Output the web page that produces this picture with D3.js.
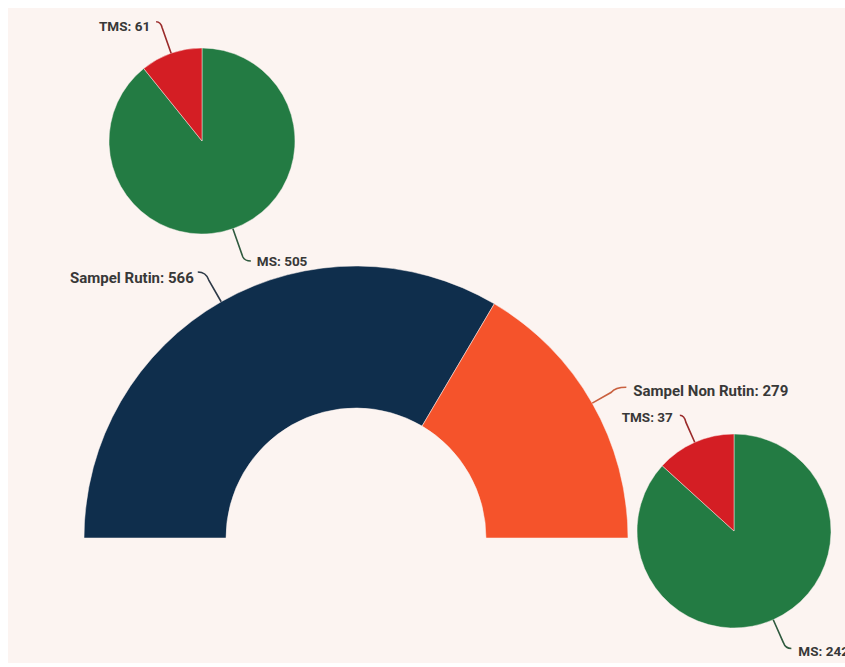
<!DOCTYPE html>
<html><head><meta charset="utf-8">
<script src="https://cdn.jsdelivr.net/npm/d3@7"></script>
<style>html,body{margin:0;padding:0;background:#fff;}svg{display:block;}</style>
</head><body>
<svg id="chart" width="845" height="667"></svg>
<script>
// ---- data ----
const mainCategories = ["Sampel Rutin", "Sampel Non Rutin"];
const mainValues = [566, 279];
const rutinCategories = ["MS", "TMS"];
const rutinValues = [505, 61];
const nonRutinCategories = ["MS", "TMS"];
const nonRutinValues = [242, 37];

const svg = d3.select("#chart");
svg.append("rect").attr("x", 8).attr("y", 8).attr("width", 837).attr("height", 655).attr("fill", "#fcf4f1");

const colMain = d3.scaleOrdinal().domain(mainCategories).range(["#0f2e4c", "#f5532b"]);
const lineMain = d3.scaleOrdinal().domain(mainCategories).range(["#2e3a48", "#c9603f"]);
const colSub = d3.scaleOrdinal().domain(["MS", "TMS"]).range(["#237b43", "#d41e24"]);
const lineSub = d3.scaleOrdinal().domain(["MS", "TMS"]).range(["#2f5a3f", "#9a2a2a"]);

const font = "Roboto, 'Liberation Sans', sans-serif";

function drawLabel(g, edge, angle, ext, hook, text, anchor, tdx, tdy, color, size) {
  const p1 = [edge[0] + Math.sin(angle) * ext, edge[1] - Math.cos(angle) * ext];
  const end = [p1[0] + hook[0], p1[1] + hook[1]];
  const ctrl = [p1[0] + hook[0] * 0.25, end[1]];
  const path = d3.path();
  path.moveTo(edge[0], edge[1]);
  path.lineTo(p1[0], p1[1]);
  path.quadraticCurveTo(ctrl[0], ctrl[1], end[0], end[1]);
  g.append("path").attr("d", path.toString()).attr("fill", "none")
    .attr("stroke", color).attr("stroke-width", 1.6);
  g.append("text").attr("x", end[0] + tdx).attr("y", end[1] + tdy)
    .attr("text-anchor", anchor).attr("font-family", font).attr("font-weight", 700)
    .attr("font-size", size).attr("fill", "#383838").text(text);
}

// ---- main half donut ----
const cx = 356, cy = 538, R = 272, r = 130;
const gMain = svg.append("g").attr("transform", `translate(${cx},${cy})`);
const halfPie = d3.pie().sort(null).startAngle(-Math.PI / 2).endAngle(Math.PI / 2);
const mainArcs = halfPie(mainValues).map((a, i) => Object.assign(a, { name: mainCategories[i] }));
const arcMain = d3.arc().innerRadius(r).outerRadius(R);
gMain.selectAll("path.slice").data(mainArcs).join("path").attr("class", "slice")
  .attr("d", arcMain).attr("fill", d => colMain(d.name))
  .attr("stroke", "#fcf4f1").attr("stroke-width", 1).attr("stroke-opacity", 0.5);

const mainLabelCfg = [
  { ext: 25, hook: [-11, -8], anchor: "end", tdx: -4, tdy: 11 },
  { ext: 22, hook: [15, -5], anchor: "start", tdx: 7, tdy: 9 }
];
mainArcs.forEach((a, i) => {
  const ang = (a.startAngle + a.endAngle) / 2;
  const edge = [Math.sin(ang) * R, -Math.cos(ang) * R];
  const c = mainLabelCfg[i];
  drawLabel(gMain, edge, ang, c.ext, c.hook, `${a.name}: ${a.value}`, c.anchor, c.tdx, c.tdy, lineMain(a.name), 15);
});

// ---- sub pies ----
function subPie(x, y, rad, cats, vals, cfg) {
  const g = svg.append("g").attr("transform", `translate(${x},${y})`);
  const arcs = d3.pie().sort(null)(vals).map((a, i) => Object.assign(a, { name: cats[i] }));
  const arc = d3.arc().innerRadius(0).outerRadius(rad);
  g.selectAll("path").data(arcs).join("path").attr("d", arc)
    .attr("fill", d => colSub(d.name))
    .attr("stroke", "#fcf4f1").attr("stroke-width", 1).attr("stroke-opacity", 0.45);
  arcs.forEach((a) => {
    const ang = (a.startAngle + a.endAngle) / 2;
    const edge = [Math.sin(ang) * rad, -Math.cos(ang) * rad];
    const c = cfg[a.name];
    drawLabel(g, edge, ang, c.ext, c.hook, `${a.name}: ${a.value}`, c.anchor, c.tdx, c.tdy, lineSub(a.name), 13.5);
  });
}

subPie(202, 141, 93, rutinCategories, rutinValues, {
  MS: { ext: 30, hook: [8, 4], anchor: "start", tdx: 6, tdy: 5 },
  TMS: { ext: 27, hook: [-6, -6], anchor: "end", tdx: -6, tdy: 9 }
});
subPie(734, 531, 97, nonRutinCategories, nonRutinValues, {
  MS: { ext: 25, hook: [8, 6], anchor: "start", tdx: 7, tdy: 7 },
  TMS: { ext: 22, hook: [-6, -7], anchor: "end", tdx: -7, tdy: 7 }
});
</script>
</body></html>
